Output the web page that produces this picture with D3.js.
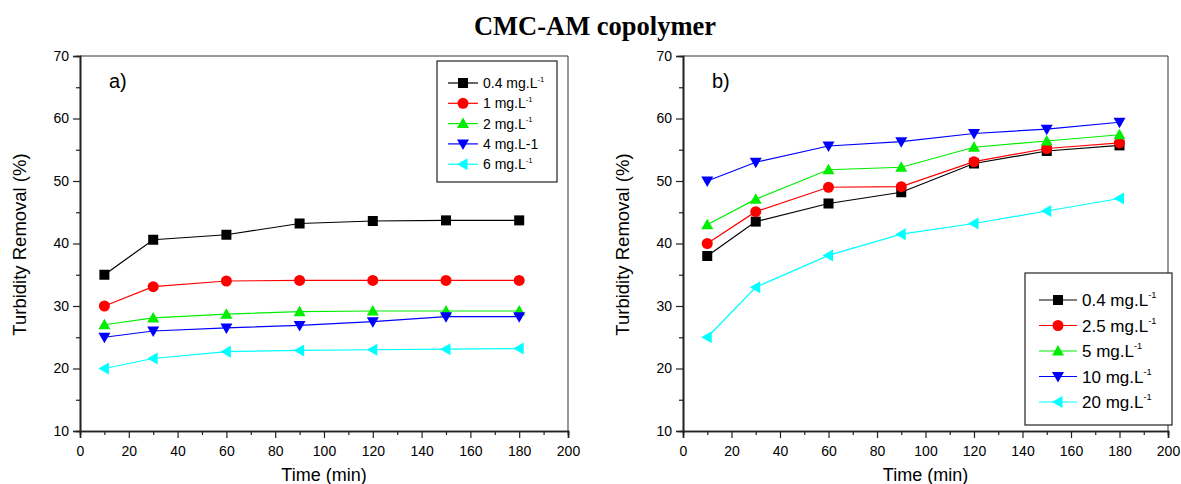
<!DOCTYPE html>
<html>
<head>
<meta charset="utf-8">
<script src="https://cdn.jsdelivr.net/npm/d3@7"></script>
<style>
  body { margin: 0; background: #fff; }
  text { font-family: Arial, "Liberation Sans", sans-serif; fill: #000; }
</style>
</head>
<body>
<script>
// time points (min)
var times = [10, 30, 60, 90, 120, 150, 180]

// panel a) series
var namesA = ["0.4 mg.L", "1 mg.L", "2 mg.L", "4 mg.L-1", "6 mg.L"]
var supA = [true, true, true, false, true]
var a04 = [35, 40.6, 41.4, 43.2, 43.6, 43.7, 43.7]
var a1 = [30, 33.1, 34, 34.1, 34.1, 34.1, 34.1]
var a2 = [27, 28.1, 28.7, 29.1, 29.2, 29.2, 29.2]
var a4 = [25, 26, 26.5, 26.9, 27.5, 28.3, 28.3]
var a6 = [20, 21.6, 22.7, 22.9, 23, 23.1, 23.2]

// panel b) series
var namesB = ["0.4 mg.L", "2.5 mg.L", "5 mg.L", "10 mg.L", "20 mg.L"]
var supB = [true, true, true, true, true]
var b04 = [38, 43.5, 46.4, 48.2, 52.8, 54.8, 55.7]
var b25 = [40, 45.1, 49, 49.1, 53.1, 55.2, 56.1]
var b5 = [43, 47.1, 51.8, 52.2, 55.4, 56.4, 57.4]
var b10 = [50, 53, 55.6, 56.3, 57.6, 58.3, 59.4]
var b20 = [25, 33, 38.1, 41.5, 43.2, 45.2, 47.2]

var colors = ["#000000", "#ff0000", "#00ee00", "#0000ff", "#00ffff"]
var shapes = ["square", "circle", "up", "down", "left"]

var yTicks = [10, 20, 30, 40, 50, 60, 70]
var xTicks = [0, 20, 40, 60, 80, 100, 120, 140, 160, 180, 200]

var svg = d3.select("body").append("svg")
    .attr("width", 1181).attr("height", 484)

svg.append("text")
    .attr("x", 595).attr("y", 35)
    .attr("text-anchor", "middle")
    .style("font-family", "'Liberation Serif', 'Times New Roman', serif")
    .style("font-weight", "bold")
    .style("font-size", "26.5px")
    .text("CMC-AM copolymer")

var drawMarker = function(g, shape, x, y, color)
{
    var s = 5
    if (shape == "square") {
        g.append("rect").attr("x", x - s).attr("y", y - s)
            .attr("width", 2 * s).attr("height", 2 * s).attr("fill", color)
    } else if (shape == "circle") {
        g.append("circle").attr("cx", x).attr("cy", y).attr("r", s + 0.5).attr("fill", color)
    } else {
        var p
        var t = 6
        if (shape == "up") p = [[x, y - t], [x - t, y + t * 0.75], [x + t, y + t * 0.75]]
        if (shape == "down") p = [[x, y + t], [x - t, y - t * 0.75], [x + t, y - t * 0.75]]
        if (shape == "left") p = [[x - t, y], [x + t * 0.75, y - t], [x + t * 0.75, y + t]]
        g.append("path").attr("d", "M" + p.join("L") + "Z").attr("fill", color)
    }
}

var panel = function(opts)
{
    var left = opts.left, right = opts.right, top = 56, bottom = 431

    var xScale = d3.scaleLinear().domain([0, 200]).range([left, right])
    var yScale = d3.scaleLinear().domain([10, 70]).range([bottom, top])

    var g = svg.append("g")

    // frame (top, right)
    g.append("path")
        .attr("d", "M" + left + "," + top + "H" + right + "V" + bottom)
        .attr("fill", "none").attr("stroke", "#333").attr("stroke-width", 1)

    // minor ticks
    var xAxisMinor = d3.axisBottom(xScale).tickValues(d3.range(10, 200, 20)).tickSize(4).tickFormat("")
    var yAxisMinor = d3.axisLeft(yScale).tickValues(d3.range(15, 70, 10)).tickSize(4).tickFormat("")
    g.append("g").attr("transform", "translate(0," + bottom + ")").call(xAxisMinor)
    g.append("g").attr("transform", "translate(" + left + ",0)").call(yAxisMinor)

    var xAxis = d3.axisBottom(xScale).tickValues(xTicks).tickSize(7).tickPadding(8)
    var yAxis = d3.axisLeft(yScale).tickValues(yTicks).tickSize(7).tickPadding(4)

    var gx = g.append("g").attr("transform", "translate(0," + bottom + ")").call(xAxis)
    var gy = g.append("g").attr("transform", "translate(" + left + ",0)").call(yAxis)

    g.selectAll(".domain").attr("stroke", "#222").attr("stroke-width", 1.6)
    g.selectAll(".tick line").attr("stroke", "#222").attr("stroke-width", 1.2)
    g.selectAll(".tick text").style("font-size", "14px").attr("fill", "#111")

    g.append("text")
        .attr("x", (left + right) / 2).attr("y", 481)
        .attr("text-anchor", "middle")
        .style("font-size", "18px")
        .text("Time (min)")

    g.append("text")
        .attr("transform", "translate(" + (left - 54) + "," + ((top + bottom) / 2 + 1) + ") rotate(-90)")
        .attr("text-anchor", "middle")
        .style("font-size", "18.5px")
        .text("Turbidity Removal (%)")

    g.append("text")
        .attr("x", left + 29).attr("y", 88)
        .style("font-size", "20px")
        .text(opts.label)

    var line = d3.line()
        .x(function(d, i) { return xScale(times[i]) })
        .y(function(d) { return yScale(d) })

    opts.series.forEach(function(s, k) {
        g.append("path").datum(s)
            .attr("d", line)
            .attr("fill", "none")
            .attr("stroke", colors[k])
            .attr("stroke-width", 1.2)
    })
    opts.series.forEach(function(s, k) {
        s.forEach(function(v, i) {
            drawMarker(g, shapes[k], xScale(times[i]), yScale(v), colors[k])
        })
    })

    // legend
    var L = opts.legend
    g.append("rect")
        .attr("x", L.x).attr("y", L.y).attr("width", L.w).attr("height", L.h)
        .attr("fill", "#fff").attr("stroke", "#222").attr("stroke-width", 1.2)
    opts.names.forEach(function(n, k) {
        var yy = L.y + L.first + k * L.step
        g.append("line")
            .attr("x1", L.x + L.lx0).attr("x2", L.x + L.lx1)
            .attr("y1", yy).attr("y2", yy)
            .attr("stroke", colors[k]).attr("stroke-width", 1.2)
        drawMarker(g, shapes[k], L.x + (L.lx0 + L.lx1) / 2, yy, colors[k])
        var t = g.append("text")
            .attr("x", L.x + L.lx1 + 5).attr("y", yy + L.fs * 0.36)
            .style("font-size", L.fs + "px")
            .text(n)
        if (opts.sup[k]) {
            t.append("tspan")
                .attr("dy", -L.fs * 0.45)
                .style("font-size", (L.fs * 0.55) + "px")
                .text("-1")
        }
    })
}

panel({
    left: 80, right: 568, label: "a)",
    series: [a04, a1, a2, a4, a6], names: namesA, sup: supA,
    legend: {x: 437, y: 61, w: 120, h: 121, first: 22, step: 20.3, lx0: 11, lx1: 41, fs: 14}
})

panel({
    left: 683, right: 1168, label: "b)",
    series: [b04, b25, b5, b10, b20], names: namesB, sup: supB,
    legend: {x: 1025, y: 273, w: 147, h: 152, first: 27, step: 25.5, lx0: 14, lx1: 52, fs: 17}
})
</script>
</body>
</html>
